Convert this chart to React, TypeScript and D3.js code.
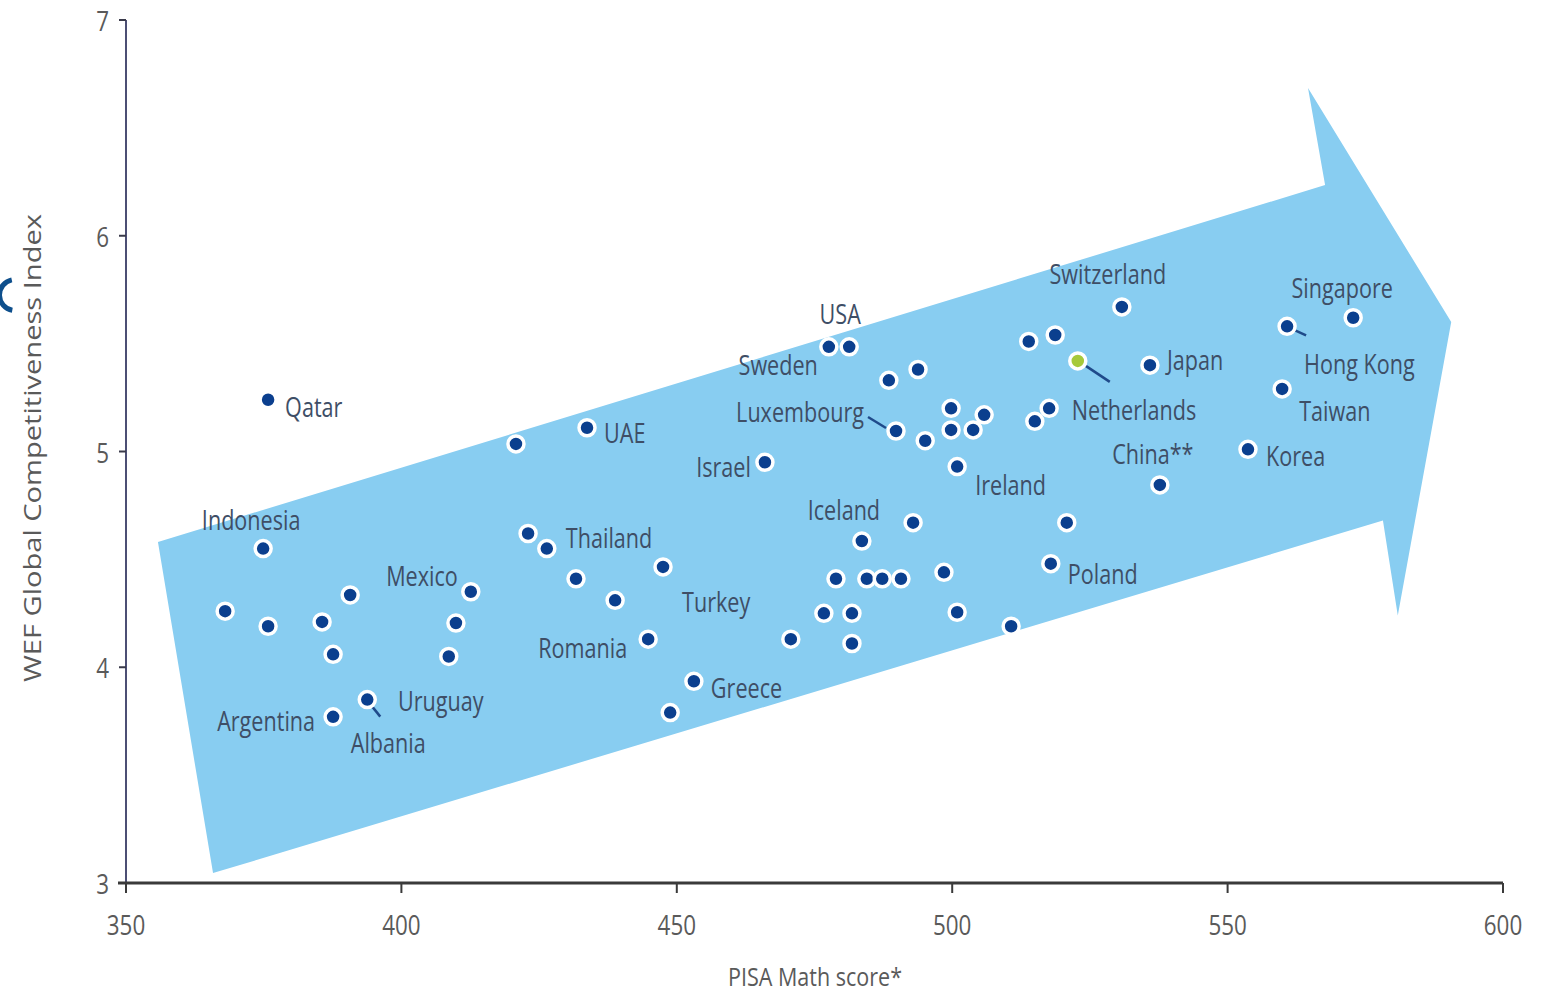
import React from "react";
import * as d3 from "d3";

// PISA 2012 maths score vs. WEF Global Competitiveness Index, one dot per economy
const countries = [
  "Qatar", "Indonesia", "", "", "", "", "", "Argentina", "Albania", "Mexico",
  "", "Uruguay", "", "UAE", "", "Thailand", "", "", "Turkey", "Romania",
  "Greece", "", "Israel", "Sweden", "USA", "", "", "Luxembourg", "", "",
  "", "", "", "Ireland", "", "Iceland", "", "", "", "",
  "", "", "", "", "", "", "", "", "", "Switzerland",
  "Netherlands", "Japan", "", "", "", "Poland", "China**", "Korea", "Hong Kong", "Singapore",
  "Taiwan",
];
const mathScores = [
  375.8, 374.9, 368.0, 375.8, 385.6, 390.7, 387.6, 387.6, 393.8, 412.6,
  409.9, 408.6, 420.8, 433.7, 423.0, 426.4, 431.7, 438.8, 447.5, 444.8,
  453.1, 448.8, 466.0, 477.6, 481.3, 488.5, 493.8, 489.8, 495.1, 499.8,
  499.8, 503.8, 505.8, 500.9, 483.6, 492.9, 478.9, 484.5, 487.3, 490.7,
  498.5, 476.7, 481.8, 470.7, 481.8, 500.9, 510.7, 513.9, 518.7, 530.8,
  522.8, 535.9, 517.6, 515.0, 520.8, 517.9, 537.7, 553.7, 560.8, 572.8,
  559.9,
];
const wefScores = [
  5.24, 4.55, 4.26, 4.19, 4.21, 4.335, 4.06, 3.77, 3.85, 4.35,
  4.205, 4.05, 5.035, 5.11, 4.62, 4.55, 4.41, 4.31, 4.465, 4.13,
  3.935, 3.79, 4.95, 5.485, 5.485, 5.33, 5.38, 5.095, 5.05, 5.2,
  5.1, 5.1, 5.17, 4.93, 4.585, 4.67, 4.41, 4.41, 4.41, 4.41,
  4.44, 4.25, 4.25, 4.13, 4.11, 4.255, 4.19, 5.51, 5.54, 5.67,
  5.42, 5.4, 5.2, 5.14, 4.67, 4.48, 4.845, 5.01, 5.58, 5.62,
  5.29,
];
const highlighted = ["Netherlands"];

const xTicks = [350, 400, 450, 500, 550, 600];
const yTicks = [3, 4, 5, 6, 7];
const xTitle = "PISA Math score*";
const yTitle = "WEF Global Competitiveness Index";

// Trend arrow outline, in data units (maths score, index)
const arrowMath = [355.8, 567.7, 564.6, 590.6, 580.9, 578.2, 365.8];
const arrowWef = [4.58, 6.235, 6.685, 5.6, 4.24, 4.68, 3.046];

// Label placement relative to its dot: offsets, anchor, optional leader line
type Place = { dx: number; dy: number; anchor: "start" | "middle" | "end"; lead?: [number, number, number, number] };
const placement: Record<string, Place> = {
  Qatar: { dx: 17, dy: 7, anchor: "start" },
  Indonesia: { dx: -12, dy: -29, anchor: "middle" },
  Argentina: { dx: -18, dy: 4, anchor: "end" },
  Albania: { dx: 21, dy: 43, anchor: "middle", lead: [5, 7, 13, 17] },
  Uruguay: { dx: -8, dy: 44, anchor: "middle" },
  Mexico: { dx: -13, dy: -16, anchor: "end" },
  UAE: { dx: 17, dy: 5, anchor: "start" },
  Thailand: { dx: 19, dy: -11, anchor: "start" },
  Turkey: { dx: 19, dy: 35, anchor: "start" },
  Romania: { dx: -21, dy: 8, anchor: "end" },
  Greece: { dx: 17, dy: 6, anchor: "start" },
  Israel: { dx: -14, dy: 4, anchor: "end" },
  USA: { dx: -9, dy: -33, anchor: "middle" },
  Sweden: { dx: -11, dy: 18, anchor: "end" },
  Luxembourg: { dx: -32, dy: -19, anchor: "end", lead: [-28, -14, -10, -3] },
  Iceland: { dx: -33, dy: -13, anchor: "end" },
  Ireland: { dx: 18, dy: 18, anchor: "start" },
  Switzerland: { dx: -14, dy: -33, anchor: "middle" },
  Netherlands: { dx: -6, dy: 49, anchor: "start", lead: [8, 5, 32, 21] },
  Japan: { dx: 17, dy: -6, anchor: "start" },
  "China**": { dx: -7, dy: -31, anchor: "middle" },
  Poland: { dx: 17, dy: 10, anchor: "start" },
  Singapore: { dx: -11, dy: -30, anchor: "middle" },
  "Hong Kong": { dx: 17, dy: 37, anchor: "start", lead: [8, 4, 19, 9] },
  Taiwan: { dx: 17, dy: 22, anchor: "start" },
  Korea: { dx: 18, dy: 6, anchor: "start" },
};

const W = 1550;
const H = 993;
const FONT = "'Open Sans', 'DejaVu Sans', sans-serif";
const SX = 0.8; // narrow the lettering

const x = d3.scaleLinear().domain([350, 600]).range([126, 1503]);
const y = d3.scaleLinear().domain([3, 7]).range([883, 20]);

function Txt(props: {
  px: number; py: number; text: string; size: number; fill: string;
  anchor?: "start" | "middle" | "end"; rotate?: number; sx?: number; length?: number;
}) {
  const { px, py, text, size, fill, anchor = "start", rotate = 0, sx = SX, length } = props;
  return (
    <text
      transform={`translate(${px},${py}) rotate(${rotate}) scale(${sx},1)`}
      textAnchor={anchor}
      dominantBaseline="central"
      fontFamily={FONT}
      fontSize={size}
      fill={fill}
      textLength={length}
      lengthAdjust={length ? "spacingAndGlyphs" : undefined}
    >
      {text}
    </text>
  );
}

export default function App() {
  const arrowPath = d3.line<number>()
    .x((_, i) => x(arrowMath[i]))
    .y((_, i) => y(arrowWef[i]))
    .curve(d3.curveLinearClosed)(arrowMath.map((_, i) => i)) as string;

  const points = mathScores.map((m, i) => ({
    name: countries[i],
    cx: x(m),
    cy: y(wefScores[i]),
    hi: highlighted.includes(countries[i]),
  }));

  // fragment of a neighbouring heading letter at the left edge
  const edgeArc = d3.arc()({
    innerRadius: 13,
    outerRadius: 18,
    startAngle: (-170 * Math.PI) / 180,
    endAngle: (-12 * Math.PI) / 180,
  }) as string;

  const labelColor = "#3e4e66";
  const tickColor = "#5a5a5a";

  return (
    <svg
      width={W}
      height={H}
      viewBox={`0 0 ${W} ${H}`}
      style={{ position: "absolute", left: 0, top: 0, background: "#ffffff", display: "block" }}
    >
      <rect x={0} y={0} width={W} height={H} fill="#ffffff" />
      <path d={edgeArc} transform="translate(15,295)" fill="#0e4f8c" />

      <path d={arrowPath} fill="#88cdf1" />

      {/* y axis */}
      <line x1={x(350)} x2={x(350)} y1={y(7)} y2={y(3)} stroke="#4c4f74" strokeWidth={2} />
      {yTicks.map((t) => (
        <g key={`y${t}`}>
          <line x1={x(350) - 7} x2={x(350)} y1={y(t)} y2={y(t)} stroke="#3a3a4a" strokeWidth={2} />
          <Txt px={x(350) - 17} py={y(t)} text={String(t)} size={28} fill={tickColor} anchor="end" />
        </g>
      ))}
      {/* x axis */}
      <line x1={x(350) - 8} x2={x(600)} y1={y(3)} y2={y(3)} stroke="#3a3a3a" strokeWidth={3} />
      {xTicks.map((t) => (
        <g key={`x${t}`}>
          <line x1={x(t)} x2={x(t)} y1={y(3)} y2={y(3) + 10} stroke="#3a3a3a" strokeWidth={2} />
          <Txt px={x(t)} py={y(3) + 41} text={String(t)} size={28} fill={tickColor} anchor="middle" />
        </g>
      ))}
      <Txt px={815} py={976} text={xTitle} size={26} fill={tickColor} anchor="middle" sx={1} length={174} />
      <Txt px={32} py={448} text={yTitle} size={23} fill={tickColor} anchor="middle" rotate={-90} sx={1} length={468} />

      {/* leader lines */}
      {points.map((p, i) => {
        const pl = placement[p.name];
        if (!p.name || !pl || !pl.lead) return null;
        const [a, b, c, d] = pl.lead;
        return (
          <line key={`l${i}`} x1={p.cx + a} y1={p.cy + b} x2={p.cx + c} y2={p.cy + d}
            stroke="#1f4a8a" strokeWidth={2.5} />
        );
      })}

      {/* dots */}
      {points.map((p, i) => (
        <circle key={`c${i}`} cx={p.cx} cy={p.cy} r={8}
          fill={p.hi ? "#a6c93a" : "#0b3f8e"} stroke="#ffffff" strokeWidth={3.5} />
      ))}

      {/* country labels */}
      {points.map((p, i) => {
        const pl = placement[p.name];
        if (!p.name || !pl) return null;
        return (
          <Txt key={`t${i}`} px={p.cx + pl.dx} py={p.cy + pl.dy} text={p.name} size={27}
            fill={labelColor} anchor={pl.anchor} />
        );
      })}
    </svg>
  );
}
